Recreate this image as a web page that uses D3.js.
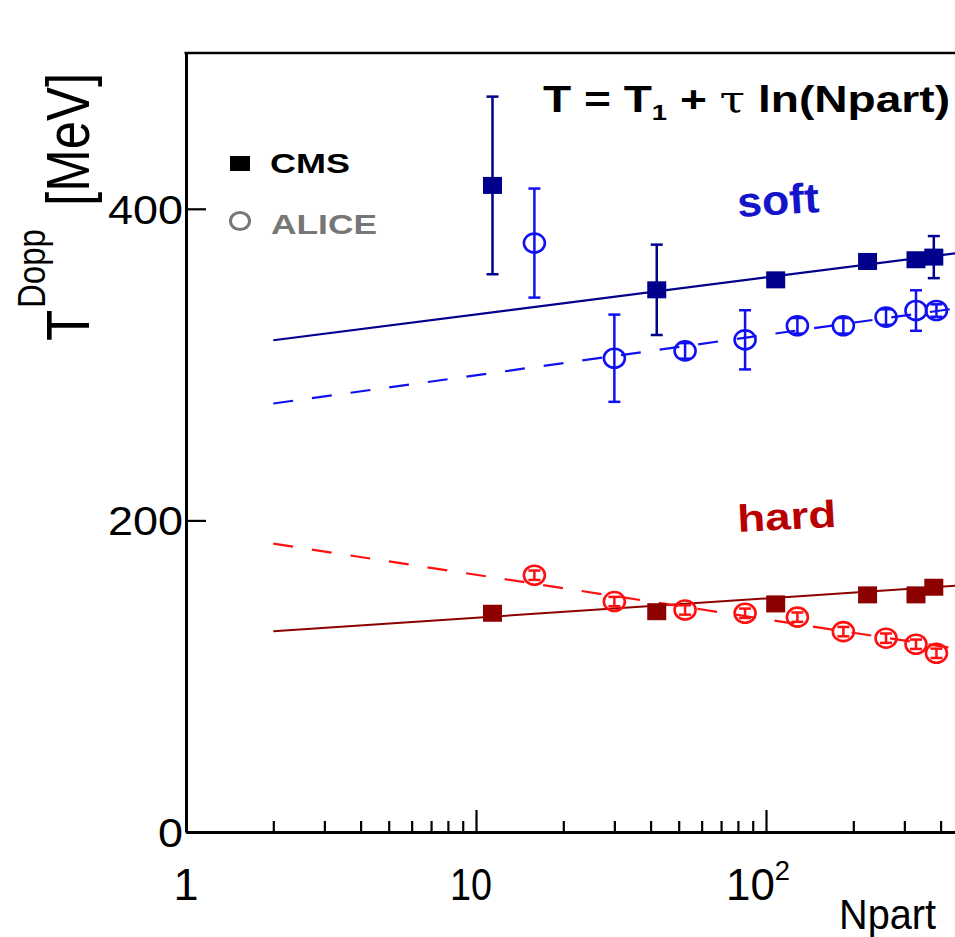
<!DOCTYPE html>
<html>
<head>
<meta charset="utf-8">
<script src="https://cdn.jsdelivr.net/npm/d3@7/dist/d3.min.js"></script>
<style>
  body { margin: 0; background: #fff; }
  text { font-family: "Liberation Sans", Arial, Helvetica, sans-serif; }
</style>
</head>
<body>
<svg id="chart" width="955" height="937"></svg>
<script>
// ---- data ----
const cmsNpart     = [11.4, 42, 108, 224, 329, 379];
const cmsSoft      = [415, 348, 354.4, 366.2, 367.3, 369];
const cmsSoftErr   = [57, 29, 4, 4, 4, 13.5];
const cmsHard      = [140.4, 141.4, 146.4, 152.2, 152.2, 157.1];
const cmsHardErr   = [3, 3, 3, 3, 3, 3];

const aliceNpart   = [15.9, 30, 52.6, 84.7, 128.3, 184.8, 259.4, 329, 387];
const aliceSoft    = [378, 304.1, 308.8, 315.9, 324.9, 324.9, 330.5, 334.7, 334.7];
const aliceSoftErr = [35, 28, 5, 19, 5, 5, 5, 13, 4];
const aliceHard    = [164.8, 147.9, 142.5, 140.4, 137.9, 128.6, 124.4, 120.5, 114.7];
const aliceHardErr = [3, 3, 3, 3, 3, 3, 3, 3, 3];

// fits T = T1 + tau * ln(Npart): CMS soft, ALICE soft, CMS hard, ALICE hard
const fitT1   = [308.5, 267.2, 125.2, 193.7];
const fitTau  = [10.3, 11.27, 5.37, -12.42];
const fitNpart = [2, 600];

const xMajorTicks = [1, 10, 100];
const xMinorTicks = [2,3,4,5,6,7,8,9,20,30,40,50,60,70,80,90,200,300,400,500,600];
const yTicks = [0, 200, 400];

// ---- colours ----
const cNavy = "#00008c", cBlue = "#1010f0", cDarkRed = "#8c0000", cRed = "#ff1010";

const svg = d3.select("#chart");
svg.append("rect").attr("width", 955).attr("height", 937).attr("fill", "#fff");

const x = d3.scaleLog().domain([1, 600]).range([186, 186 + 290 * Math.log10(600)]);
const y = d3.scaleLinear().domain([0, 500]).range([832, 53]);

// ---- axes ----
const gx = svg.append("g").attr("transform", `translate(0,${y(0)})`)
  .call(d3.axisBottom(x).tickValues(xMajorTicks).tickSize(-22).tickSizeOuter(0).tickFormat(""));
gx.select(".domain").attr("stroke-width", 3);
gx.selectAll(".tick line").attr("stroke-width", 2.2);

const gxm = svg.append("g").attr("transform", `translate(0,${y(0)})`)
  .call(d3.axisBottom(x).tickValues(xMinorTicks).tickSize(-11).tickSizeOuter(0).tickFormat(""));
gxm.select(".domain").remove();
gxm.selectAll(".tick line").attr("stroke-width", 2.2);

const gy = svg.append("g").attr("transform", `translate(${x(1)},0)`)
  .call(d3.axisLeft(y).tickValues(yTicks).tickSize(-20).tickSizeOuter(0).tickFormat(""));
gy.select(".domain").attr("stroke-width", 3);
gy.selectAll(".tick line").attr("stroke-width", 2.2);

// top frame
svg.append("line").attr("x1", x(1) - 1.5).attr("x2", x(600)).attr("y1", y(500)).attr("y2", y(500))
  .attr("stroke", "#000").attr("stroke-width", 2.5);

// y tick labels
svg.selectAll(".ylab").data(yTicks).join("text")
  .attr("class", "ylab")
  .attr("x", 183).attr("y", d => y(d) + 15)
  .attr("text-anchor", "end").attr("font-size", 41)
  .attr("textLength", d => String(d).length * 25).attr("lengthAdjust", "spacingAndGlyphs")
  .text(d => d);

// x tick labels
xMajorTicks.forEach(v => {
  const t = svg.append("text").attr("x", x(v) - (v >= 100 ? 8 : (v >= 10 ? 5 : 0))).attr("y", 900)
    .attr("text-anchor", "middle").attr("font-size", 45);
  if (v >= 100) {
    const p = Math.round(Math.log10(v));
    t.attr("textLength", 64).attr("lengthAdjust", "spacingAndGlyphs");
    t.append("tspan").text("10");
    t.append("tspan").attr("dy", -20).attr("font-size", 28).text(p);
  } else if (v >= 10) {
    t.attr("textLength", 42).attr("lengthAdjust", "spacingAndGlyphs").text(v);
  } else {
    t.text(v);
  }
});

// axis titles
svg.append("text").attr("x", 936).attr("y", 929).attr("text-anchor", "end")
  .attr("font-size", 42).attr("textLength", 97).attr("lengthAdjust", "spacingAndGlyphs").text("Npart");

function yTitlePart(tx, ty, size, str) {
  svg.append("text")
    .attr("transform", `translate(${tx},${ty}) scale(1.2,1) rotate(-90)`)
    .attr("font-size", size).text(str);
}
yTitlePart(89, 341, 51, "T");
yTitlePart(45, 308, 33, "Dopp");
yTitlePart(89, 206, 51, "[MeV]");

// ---- fit lines ----
const fitColors = [cNavy, cBlue, cDarkRed, cRed];
const fitDash = [null, "20,19", null, "20,19"];
const lineGen = d3.line().x(d => x(d[0])).y(d => y(d[1]));
fitT1.forEach((t1, i) => {
  const pts = fitNpart.map(n => [n, t1 + fitTau[i] * Math.log(n)]);
  svg.append("path").attr("d", lineGen(pts)).attr("fill", "none")
    .attr("stroke", fitColors[i]).attr("stroke-width", i === 2 ? 2 : 2.2)
    .attr("stroke-dasharray", fitDash[i]);
});

// ---- error bars ----
function errorBars(xs, ys, es, color) {
  const g = svg.append("g").attr("stroke", color).attr("stroke-width", 2.5);
  xs.forEach((n, i) => {
    const cx = x(n), y0 = y(ys[i] - es[i]), y1 = y(ys[i] + es[i]);
    g.append("line").attr("x1", cx).attr("x2", cx).attr("y1", y0).attr("y2", y1);
    g.append("line").attr("x1", cx - 6).attr("x2", cx + 6).attr("y1", y0).attr("y2", y0);
    g.append("line").attr("x1", cx - 6).attr("x2", cx + 6).attr("y1", y1).attr("y2", y1);
  });
}
errorBars(cmsNpart, cmsSoft, cmsSoftErr, cNavy);
errorBars(cmsNpart, cmsHard, cmsHardErr, cDarkRed);
errorBars(aliceNpart, aliceSoft, aliceSoftErr, cBlue);
errorBars(aliceNpart, aliceHard, aliceHardErr, cRed);

// ---- markers ----
function squares(xs, ys, color) {
  svg.append("g").selectAll("rect").data(xs).join("rect")
    .attr("x", d => x(d) - 9.5).attr("y", (d, i) => y(ys[i]) - 8.5)
    .attr("width", 19).attr("height", 17).attr("fill", color);
}
function rings(xs, ys, color) {
  svg.append("g").selectAll("ellipse").data(xs).join("ellipse")
    .attr("cx", d => x(d)).attr("cy", (d, i) => y(ys[i]))
    .attr("rx", 10.5).attr("ry", 9.5)
    .attr("fill", "none").attr("stroke", color).attr("stroke-width", 2.6);
}
squares(cmsNpart, cmsSoft, cNavy);
squares(cmsNpart, cmsHard, cDarkRed);
rings(aliceNpart, aliceSoft, cBlue);
rings(aliceNpart, aliceHard, cRed);

// ---- legend ----
svg.append("rect").attr("x", 230).attr("y", 156).attr("width", 20).attr("height", 15).attr("fill", "#000");
svg.append("text").attr("x", 270).attr("y", 173).attr("font-size", 28).attr("font-weight", "bold")
  .attr("textLength", 80).attr("lengthAdjust", "spacingAndGlyphs").text("CMS");
svg.append("ellipse").attr("cx", 240).attr("cy", 221).attr("rx", 9.5).attr("ry", 8.5)
  .attr("fill", "none").attr("stroke", "#777").attr("stroke-width", 3);
svg.append("text").attr("x", 271).attr("y", 234).attr("font-size", 28).attr("font-weight", "bold")
  .attr("fill", "#777").attr("textLength", 106).attr("lengthAdjust", "spacingAndGlyphs").text("ALICE");

// ---- formula ----
const f = svg.append("text").attr("x", 543).attr("y", 112).attr("font-size", 37)
  .attr("font-weight", "bold").attr("textLength", 407).attr("lengthAdjust", "spacingAndGlyphs");
f.append("tspan").text("T = T");
f.append("tspan").attr("font-size", 22).attr("dy", 8).text("1");
f.append("tspan").attr("dy", -8).text(" +  ");
f.append("tspan").attr("font-weight", "normal").attr("font-family", "DejaVu Serif, serif").text("τ");
f.append("tspan").text(" ln(Npart)");

// ---- series labels ----
svg.append("text").attr("x", 738).attr("y", 217).attr("font-size", 42).attr("font-weight", "bold")
  .attr("fill", "#1414c8").attr("textLength", 82).attr("lengthAdjust", "spacingAndGlyphs")
  .attr("transform", "rotate(-3.5,738,217)").text("soft");
svg.append("text").attr("x", 738).attr("y", 532).attr("font-size", 38).attr("font-weight", "bold")
  .attr("fill", "#b80000").attr("textLength", 99).attr("lengthAdjust", "spacingAndGlyphs")
  .attr("transform", "rotate(-3,738,532)").text("hard");
</script>
</body>
</html>
